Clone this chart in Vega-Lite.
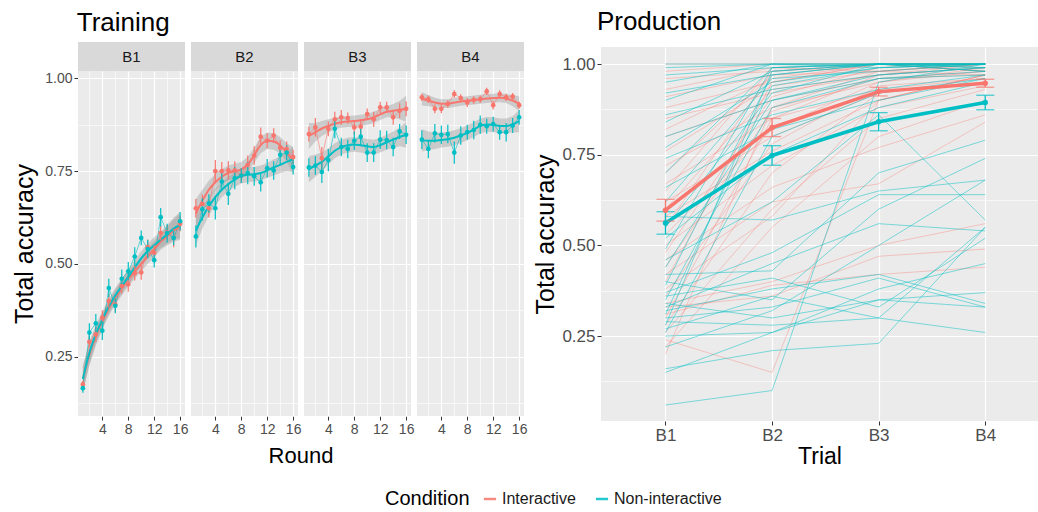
{
  "$schema": "https://vega.github.io/schema/vega-lite/v6.json",
  "background": "white",
  "padding": {"left": 12, "top": 9, "right": 0, "bottom": 0},
  "datasets": {
    "training": [
      {"b":"B1","r":1,"c":"Interactive","acc":0.175,"se":0.01,"fit":0.19,"fse":0.035},
      {"b":"B1","r":2,"c":"Interactive","acc":0.29,"se":0.015,"fit":0.255,"fse":0.03},
      {"b":"B1","r":3,"c":"Interactive","acc":0.31,"se":0.02,"fit":0.305,"fse":0.025},
      {"b":"B1","r":4,"c":"Interactive","acc":0.355,"se":0.02,"fit":0.345,"fse":0.022},
      {"b":"B1","r":5,"c":"Interactive","acc":0.40,"se":0.02,"fit":0.38,"fse":0.02},
      {"b":"B1","r":6,"c":"Interactive","acc":0.39,"se":0.02,"fit":0.41,"fse":0.02},
      {"b":"B1","r":7,"c":"Interactive","acc":0.44,"se":0.02,"fit":0.435,"fse":0.02},
      {"b":"B1","r":8,"c":"Interactive","acc":0.445,"se":0.02,"fit":0.46,"fse":0.02},
      {"b":"B1","r":9,"c":"Interactive","acc":0.475,"se":0.02,"fit":0.48,"fse":0.02},
      {"b":"B1","r":10,"c":"Interactive","acc":0.477,"se":0.02,"fit":0.50,"fse":0.02},
      {"b":"B1","r":11,"c":"Interactive","acc":0.545,"se":0.02,"fit":0.52,"fse":0.02},
      {"b":"B1","r":12,"c":"Interactive","acc":0.53,"se":0.02,"fit":0.54,"fse":0.022},
      {"b":"B1","r":13,"c":"Interactive","acc":0.583,"se":0.02,"fit":0.56,"fse":0.022},
      {"b":"B1","r":14,"c":"Interactive","acc":0.585,"se":0.02,"fit":0.575,"fse":0.025},
      {"b":"B1","r":15,"c":"Interactive","acc":0.57,"se":0.025,"fit":0.59,"fse":0.03},
      {"b":"B1","r":16,"c":"Interactive","acc":0.608,"se":0.02,"fit":0.60,"fse":0.035},
      {"b":"B1","r":1,"c":"Non-interactive","acc":0.165,"se":0.012,"fit":0.19,"fse":0.035},
      {"b":"B1","r":2,"c":"Non-interactive","acc":0.315,"se":0.025,"fit":0.26,"fse":0.03},
      {"b":"B1","r":3,"c":"Non-interactive","acc":0.34,"se":0.025,"fit":0.31,"fse":0.025},
      {"b":"B1","r":4,"c":"Non-interactive","acc":0.32,"se":0.025,"fit":0.35,"fse":0.022},
      {"b":"B1","r":5,"c":"Non-interactive","acc":0.435,"se":0.025,"fit":0.385,"fse":0.02},
      {"b":"B1","r":6,"c":"Non-interactive","acc":0.387,"se":0.02,"fit":0.415,"fse":0.02},
      {"b":"B1","r":7,"c":"Non-interactive","acc":0.46,"se":0.025,"fit":0.44,"fse":0.02},
      {"b":"B1","r":8,"c":"Non-interactive","acc":0.48,"se":0.025,"fit":0.465,"fse":0.02},
      {"b":"B1","r":9,"c":"Non-interactive","acc":0.52,"se":0.025,"fit":0.49,"fse":0.02},
      {"b":"B1","r":10,"c":"Non-interactive","acc":0.57,"se":0.02,"fit":0.515,"fse":0.02},
      {"b":"B1","r":11,"c":"Non-interactive","acc":0.54,"se":0.025,"fit":0.535,"fse":0.02},
      {"b":"B1","r":12,"c":"Non-interactive","acc":0.51,"se":0.02,"fit":0.55,"fse":0.022},
      {"b":"B1","r":13,"c":"Non-interactive","acc":0.626,"se":0.025,"fit":0.565,"fse":0.022},
      {"b":"B1","r":14,"c":"Non-interactive","acc":0.583,"se":0.025,"fit":0.58,"fse":0.025},
      {"b":"B1","r":15,"c":"Non-interactive","acc":0.57,"se":0.02,"fit":0.595,"fse":0.03},
      {"b":"B1","r":16,"c":"Non-interactive","acc":0.615,"se":0.025,"fit":0.605,"fse":0.035},
      {"b":"B2","r":1,"c":"Interactive","acc":0.65,"se":0.025,"fit":0.635,"fse":0.04},
      {"b":"B2","r":2,"c":"Interactive","acc":0.662,"se":0.025,"fit":0.67,"fse":0.03},
      {"b":"B2","r":3,"c":"Interactive","acc":0.65,"se":0.025,"fit":0.70,"fse":0.025},
      {"b":"B2","r":4,"c":"Interactive","acc":0.75,"se":0.03,"fit":0.72,"fse":0.022},
      {"b":"B2","r":5,"c":"Interactive","acc":0.75,"se":0.025,"fit":0.735,"fse":0.02},
      {"b":"B2","r":6,"c":"Interactive","acc":0.752,"se":0.025,"fit":0.745,"fse":0.02},
      {"b":"B2","r":7,"c":"Interactive","acc":0.752,"se":0.025,"fit":0.75,"fse":0.02},
      {"b":"B2","r":8,"c":"Interactive","acc":0.738,"se":0.02,"fit":0.755,"fse":0.02},
      {"b":"B2","r":9,"c":"Interactive","acc":0.767,"se":0.025,"fit":0.768,"fse":0.02},
      {"b":"B2","r":10,"c":"Interactive","acc":0.792,"se":0.025,"fit":0.793,"fse":0.02},
      {"b":"B2","r":11,"c":"Interactive","acc":0.843,"se":0.025,"fit":0.82,"fse":0.022},
      {"b":"B2","r":12,"c":"Interactive","acc":0.832,"se":0.02,"fit":0.832,"fse":0.022},
      {"b":"B2","r":13,"c":"Interactive","acc":0.846,"se":0.02,"fit":0.83,"fse":0.022},
      {"b":"B2","r":14,"c":"Interactive","acc":0.813,"se":0.02,"fit":0.82,"fse":0.022},
      {"b":"B2","r":15,"c":"Interactive","acc":0.81,"se":0.02,"fit":0.80,"fse":0.025},
      {"b":"B2","r":16,"c":"Interactive","acc":0.788,"se":0.02,"fit":0.78,"fse":0.035},
      {"b":"B2","r":1,"c":"Non-interactive","acc":0.574,"se":0.03,"fit":0.59,"fse":0.04},
      {"b":"B2","r":2,"c":"Non-interactive","acc":0.647,"se":0.03,"fit":0.625,"fse":0.03},
      {"b":"B2","r":3,"c":"Non-interactive","acc":0.663,"se":0.025,"fit":0.655,"fse":0.025},
      {"b":"B2","r":4,"c":"Non-interactive","acc":0.65,"se":0.03,"fit":0.68,"fse":0.022},
      {"b":"B2","r":5,"c":"Non-interactive","acc":0.722,"se":0.025,"fit":0.70,"fse":0.02},
      {"b":"B2","r":6,"c":"Non-interactive","acc":0.689,"se":0.03,"fit":0.715,"fse":0.02},
      {"b":"B2","r":7,"c":"Non-interactive","acc":0.731,"se":0.03,"fit":0.728,"fse":0.02},
      {"b":"B2","r":8,"c":"Non-interactive","acc":0.738,"se":0.02,"fit":0.737,"fse":0.02},
      {"b":"B2","r":9,"c":"Non-interactive","acc":0.745,"se":0.03,"fit":0.74,"fse":0.02},
      {"b":"B2","r":10,"c":"Non-interactive","acc":0.736,"se":0.025,"fit":0.742,"fse":0.02},
      {"b":"B2","r":11,"c":"Non-interactive","acc":0.72,"se":0.025,"fit":0.745,"fse":0.02},
      {"b":"B2","r":12,"c":"Non-interactive","acc":0.758,"se":0.025,"fit":0.752,"fse":0.02},
      {"b":"B2","r":13,"c":"Non-interactive","acc":0.752,"se":0.025,"fit":0.76,"fse":0.022},
      {"b":"B2","r":14,"c":"Non-interactive","acc":0.794,"se":0.025,"fit":0.767,"fse":0.022},
      {"b":"B2","r":15,"c":"Non-interactive","acc":0.80,"se":0.02,"fit":0.775,"fse":0.025},
      {"b":"B2","r":16,"c":"Non-interactive","acc":0.761,"se":0.02,"fit":0.782,"fse":0.035},
      {"b":"B3","r":1,"c":"Interactive","acc":0.85,"se":0.02,"fit":0.845,"fse":0.035},
      {"b":"B3","r":2,"c":"Interactive","acc":0.868,"se":0.025,"fit":0.855,"fse":0.025},
      {"b":"B3","r":3,"c":"Interactive","acc":0.785,"se":0.03,"fit":0.865,"fse":0.02},
      {"b":"B3","r":4,"c":"Interactive","acc":0.864,"se":0.02,"fit":0.872,"fse":0.018},
      {"b":"B3","r":5,"c":"Interactive","acc":0.89,"se":0.02,"fit":0.878,"fse":0.015},
      {"b":"B3","r":6,"c":"Interactive","acc":0.895,"se":0.02,"fit":0.882,"fse":0.015},
      {"b":"B3","r":7,"c":"Interactive","acc":0.893,"se":0.015,"fit":0.884,"fse":0.015},
      {"b":"B3","r":8,"c":"Interactive","acc":0.868,"se":0.02,"fit":0.885,"fse":0.015},
      {"b":"B3","r":9,"c":"Interactive","acc":0.87,"se":0.02,"fit":0.887,"fse":0.015},
      {"b":"B3","r":10,"c":"Interactive","acc":0.904,"se":0.015,"fit":0.89,"fse":0.015},
      {"b":"B3","r":11,"c":"Interactive","acc":0.89,"se":0.02,"fit":0.895,"fse":0.015},
      {"b":"B3","r":12,"c":"Interactive","acc":0.922,"se":0.015,"fit":0.903,"fse":0.015},
      {"b":"B3","r":13,"c":"Interactive","acc":0.922,"se":0.015,"fit":0.91,"fse":0.015},
      {"b":"B3","r":14,"c":"Interactive","acc":0.895,"se":0.02,"fit":0.913,"fse":0.018},
      {"b":"B3","r":15,"c":"Interactive","acc":0.913,"se":0.02,"fit":0.915,"fse":0.025},
      {"b":"B3","r":16,"c":"Interactive","acc":0.918,"se":0.02,"fit":0.918,"fse":0.035},
      {"b":"B3","r":1,"c":"Non-interactive","acc":0.76,"se":0.025,"fit":0.755,"fse":0.035},
      {"b":"B3","r":2,"c":"Non-interactive","acc":0.765,"se":0.025,"fit":0.765,"fse":0.03},
      {"b":"B3","r":3,"c":"Non-interactive","acc":0.748,"se":0.03,"fit":0.775,"fse":0.025},
      {"b":"B3","r":4,"c":"Non-interactive","acc":0.78,"se":0.03,"fit":0.79,"fse":0.022},
      {"b":"B3","r":5,"c":"Non-interactive","acc":0.864,"se":0.025,"fit":0.805,"fse":0.02},
      {"b":"B3","r":6,"c":"Non-interactive","acc":0.815,"se":0.025,"fit":0.815,"fse":0.02},
      {"b":"B3","r":7,"c":"Non-interactive","acc":0.81,"se":0.025,"fit":0.82,"fse":0.02},
      {"b":"B3","r":8,"c":"Non-interactive","acc":0.832,"se":0.025,"fit":0.822,"fse":0.02},
      {"b":"B3","r":9,"c":"Non-interactive","acc":0.843,"se":0.025,"fit":0.82,"fse":0.02},
      {"b":"B3","r":10,"c":"Non-interactive","acc":0.80,"se":0.025,"fit":0.817,"fse":0.02},
      {"b":"B3","r":11,"c":"Non-interactive","acc":0.80,"se":0.025,"fit":0.815,"fse":0.02},
      {"b":"B3","r":12,"c":"Non-interactive","acc":0.835,"se":0.025,"fit":0.82,"fse":0.02},
      {"b":"B3","r":13,"c":"Non-interactive","acc":0.834,"se":0.025,"fit":0.828,"fse":0.02},
      {"b":"B3","r":14,"c":"Non-interactive","acc":0.815,"se":0.025,"fit":0.835,"fse":0.022},
      {"b":"B3","r":15,"c":"Non-interactive","acc":0.857,"se":0.02,"fit":0.842,"fse":0.025},
      {"b":"B3","r":16,"c":"Non-interactive","acc":0.848,"se":0.025,"fit":0.848,"fse":0.035},
      {"b":"B4","r":1,"c":"Interactive","acc":0.949,"se":0.01,"fit":0.945,"fse":0.018},
      {"b":"B4","r":2,"c":"Interactive","acc":0.944,"se":0.01,"fit":0.94,"fse":0.015},
      {"b":"B4","r":3,"c":"Interactive","acc":0.918,"se":0.012,"fit":0.935,"fse":0.013},
      {"b":"B4","r":4,"c":"Interactive","acc":0.918,"se":0.012,"fit":0.932,"fse":0.012},
      {"b":"B4","r":5,"c":"Interactive","acc":0.931,"se":0.01,"fit":0.932,"fse":0.012},
      {"b":"B4","r":6,"c":"Interactive","acc":0.958,"se":0.01,"fit":0.935,"fse":0.012},
      {"b":"B4","r":7,"c":"Interactive","acc":0.947,"se":0.01,"fit":0.938,"fse":0.012},
      {"b":"B4","r":8,"c":"Interactive","acc":0.935,"se":0.012,"fit":0.94,"fse":0.012},
      {"b":"B4","r":9,"c":"Interactive","acc":0.942,"se":0.01,"fit":0.942,"fse":0.012},
      {"b":"B4","r":10,"c":"Interactive","acc":0.944,"se":0.01,"fit":0.944,"fse":0.012},
      {"b":"B4","r":11,"c":"Interactive","acc":0.965,"se":0.01,"fit":0.946,"fse":0.012},
      {"b":"B4","r":12,"c":"Interactive","acc":0.928,"se":0.012,"fit":0.947,"fse":0.012},
      {"b":"B4","r":13,"c":"Interactive","acc":0.958,"se":0.01,"fit":0.948,"fse":0.012},
      {"b":"B4","r":14,"c":"Interactive","acc":0.949,"se":0.01,"fit":0.946,"fse":0.012},
      {"b":"B4","r":15,"c":"Interactive","acc":0.951,"se":0.01,"fit":0.94,"fse":0.015},
      {"b":"B4","r":16,"c":"Interactive","acc":0.928,"se":0.01,"fit":0.932,"fse":0.02},
      {"b":"B4","r":1,"c":"Non-interactive","acc":0.835,"se":0.025,"fit":0.833,"fse":0.03},
      {"b":"B4","r":2,"c":"Non-interactive","acc":0.81,"se":0.025,"fit":0.832,"fse":0.025},
      {"b":"B4","r":3,"c":"Non-interactive","acc":0.852,"se":0.025,"fit":0.832,"fse":0.022},
      {"b":"B4","r":4,"c":"Non-interactive","acc":0.848,"se":0.025,"fit":0.834,"fse":0.02},
      {"b":"B4","r":5,"c":"Non-interactive","acc":0.85,"se":0.025,"fit":0.836,"fse":0.02},
      {"b":"B4","r":6,"c":"Non-interactive","acc":0.80,"se":0.03,"fit":0.84,"fse":0.02},
      {"b":"B4","r":7,"c":"Non-interactive","acc":0.846,"se":0.025,"fit":0.846,"fse":0.02},
      {"b":"B4","r":8,"c":"Non-interactive","acc":0.855,"se":0.02,"fit":0.853,"fse":0.02},
      {"b":"B4","r":9,"c":"Non-interactive","acc":0.861,"se":0.025,"fit":0.862,"fse":0.02},
      {"b":"B4","r":10,"c":"Non-interactive","acc":0.875,"se":0.025,"fit":0.872,"fse":0.02},
      {"b":"B4","r":11,"c":"Non-interactive","acc":0.871,"se":0.02,"fit":0.876,"fse":0.02},
      {"b":"B4","r":12,"c":"Non-interactive","acc":0.877,"se":0.02,"fit":0.875,"fse":0.02},
      {"b":"B4","r":13,"c":"Non-interactive","acc":0.855,"se":0.02,"fit":0.872,"fse":0.02},
      {"b":"B4","r":14,"c":"Non-interactive","acc":0.855,"se":0.025,"fit":0.872,"fse":0.02},
      {"b":"B4","r":15,"c":"Non-interactive","acc":0.873,"se":0.02,"fit":0.876,"fse":0.022},
      {"b":"B4","r":16,"c":"Non-interactive","acc":0.895,"se":0.02,"fit":0.885,"fse":0.03}
    ],
    "prod": [
      {"id":"I1","c":"Interactive","B1":1.00,"B2":1.00,"B3":1.00,"B4":1.00},
      {"id":"I2","c":"Interactive","B1":0.98,"B2":1.00,"B3":1.00,"B4":1.00},
      {"id":"I3","c":"Interactive","B1":0.96,"B2":0.98,"B3":1.00,"B4":0.98},
      {"id":"I4","c":"Interactive","B1":0.93,"B2":0.99,"B3":1.00,"B4":1.00},
      {"id":"I5","c":"Interactive","B1":0.91,"B2":0.97,"B3":0.98,"B4":0.97},
      {"id":"I6","c":"Interactive","B1":0.88,"B2":0.95,"B3":1.00,"B4":0.99},
      {"id":"I7","c":"Interactive","B1":0.85,"B2":0.92,"B3":0.97,"B4":1.00},
      {"id":"I8","c":"Interactive","B1":0.82,"B2":0.96,"B3":1.00,"B4":0.98},
      {"id":"I9","c":"Interactive","B1":0.80,"B2":0.90,"B3":0.96,"B4":0.97},
      {"id":"I10","c":"Interactive","B1":0.76,"B2":0.94,"B3":0.98,"B4":1.00},
      {"id":"I11","c":"Interactive","B1":0.72,"B2":0.88,"B3":0.95,"B4":0.98},
      {"id":"I12","c":"Interactive","B1":0.70,"B2":0.97,"B3":1.00,"B4":1.00},
      {"id":"I13","c":"Interactive","B1":0.67,"B2":0.85,"B3":0.93,"B4":0.96},
      {"id":"I14","c":"Interactive","B1":0.65,"B2":0.99,"B3":0.98,"B4":1.00},
      {"id":"I15","c":"Interactive","B1":0.62,"B2":0.80,"B3":0.92,"B4":0.95},
      {"id":"I16","c":"Interactive","B1":0.60,"B2":0.93,"B3":0.97,"B4":0.99},
      {"id":"I17","c":"Interactive","B1":0.58,"B2":0.76,"B3":0.90,"B4":0.97},
      {"id":"I18","c":"Interactive","B1":0.55,"B2":0.98,"B3":1.00,"B4":0.98},
      {"id":"I19","c":"Interactive","B1":0.53,"B2":0.82,"B3":0.95,"B4":0.99},
      {"id":"I20","c":"Interactive","B1":0.50,"B2":0.72,"B3":0.88,"B4":0.94},
      {"id":"I21","c":"Interactive","B1":0.48,"B2":0.91,"B3":0.99,"B4":1.00},
      {"id":"I22","c":"Interactive","B1":0.46,"B2":0.66,"B3":0.77,"B4":0.86},
      {"id":"I23","c":"Interactive","B1":0.44,"B2":0.87,"B3":0.96,"B4":0.98},
      {"id":"I24","c":"Interactive","B1":0.42,"B2":0.62,"B3":0.67,"B4":0.84},
      {"id":"I25","c":"Interactive","B1":0.40,"B2":0.95,"B3":1.00,"B4":1.00},
      {"id":"I26","c":"Interactive","B1":0.38,"B2":0.58,"B3":0.90,"B4":0.97},
      {"id":"I27","c":"Interactive","B1":0.36,"B2":0.78,"B3":0.94,"B4":0.96},
      {"id":"I28","c":"Interactive","B1":0.34,"B2":0.40,"B3":0.50,"B4":0.56},
      {"id":"I29","c":"Interactive","B1":0.33,"B2":0.36,"B3":0.47,"B4":0.49},
      {"id":"I30","c":"Interactive","B1":0.31,"B2":0.39,"B3":0.42,"B4":0.44},
      {"id":"I31","c":"Interactive","B1":0.30,"B2":0.85,"B3":0.97,"B4":0.99},
      {"id":"I32","c":"Interactive","B1":0.28,"B2":0.70,"B3":0.92,"B4":0.95},
      {"id":"I33","c":"Interactive","B1":0.26,"B2":0.60,"B3":0.85,"B4":0.93},
      {"id":"I34","c":"Interactive","B1":0.24,"B2":0.15,"B3":0.90,"B4":0.97},
      {"id":"I35","c":"Interactive","B1":0.22,"B2":0.55,"B3":0.80,"B4":0.90},
      {"id":"I36","c":"Interactive","B1":0.20,"B2":0.88,"B3":0.98,"B4":1.00},
      {"id":"N1","c":"Non-interactive","B1":1.00,"B2":1.00,"B3":1.00,"B4":1.00},
      {"id":"N2","c":"Non-interactive","B1":0.99,"B2":1.00,"B3":1.00,"B4":0.99},
      {"id":"N3","c":"Non-interactive","B1":0.97,"B2":0.99,"B3":1.00,"B4":1.00},
      {"id":"N4","c":"Non-interactive","B1":0.95,"B2":1.00,"B3":0.99,"B4":1.00},
      {"id":"N5","c":"Non-interactive","B1":0.92,"B2":0.97,"B3":1.00,"B4":0.98},
      {"id":"N6","c":"Non-interactive","B1":0.90,"B2":1.00,"B3":1.00,"B4":1.00},
      {"id":"N7","c":"Non-interactive","B1":0.86,"B2":0.93,"B3":0.97,"B4":0.99},
      {"id":"N8","c":"Non-interactive","B1":0.84,"B2":0.98,"B3":1.00,"B4":1.00},
      {"id":"N9","c":"Non-interactive","B1":0.80,"B2":0.90,"B3":0.96,"B4":0.98},
      {"id":"N10","c":"Non-interactive","B1":0.77,"B2":0.95,"B3":0.99,"B4":1.00},
      {"id":"N11","c":"Non-interactive","B1":0.74,"B2":0.86,"B3":0.93,"B4":0.97},
      {"id":"N12","c":"Non-interactive","B1":0.70,"B2":0.99,"B3":1.00,"B4":0.99},
      {"id":"N13","c":"Non-interactive","B1":0.66,"B2":0.82,"B3":0.90,"B4":0.96},
      {"id":"N14","c":"Non-interactive","B1":0.62,"B2":0.96,"B3":0.98,"B4":1.00},
      {"id":"N15","c":"Non-interactive","B1":0.58,"B2":0.57,"B3":0.65,"B4":0.68},
      {"id":"N16","c":"Non-interactive","B1":0.55,"B2":0.92,"B3":1.00,"B4":0.98},
      {"id":"N17","c":"Non-interactive","B1":0.52,"B2":0.75,"B3":0.88,"B4":0.95},
      {"id":"N18","c":"Non-interactive","B1":0.49,"B2":0.99,"B3":1.00,"B4":1.00},
      {"id":"N19","c":"Non-interactive","B1":0.46,"B2":0.62,"B3":0.86,"B4":0.57},
      {"id":"N20","c":"Non-interactive","B1":0.44,"B2":0.90,"B3":0.97,"B4":0.99},
      {"id":"N21","c":"Non-interactive","B1":0.42,"B2":0.43,"B3":0.70,"B4":0.79},
      {"id":"N22","c":"Non-interactive","B1":0.40,"B2":0.35,"B3":0.60,"B4":0.74},
      {"id":"N23","c":"Non-interactive","B1":0.39,"B2":0.97,"B3":1.00,"B4":1.00},
      {"id":"N24","c":"Non-interactive","B1":0.37,"B2":0.48,"B3":0.64,"B4":0.64},
      {"id":"N25","c":"Non-interactive","B1":0.36,"B2":0.41,"B3":0.33,"B4":0.52},
      {"id":"N26","c":"Non-interactive","B1":0.35,"B2":0.88,"B3":0.96,"B4":0.97},
      {"id":"N27","c":"Non-interactive","B1":0.34,"B2":0.30,"B3":0.35,"B4":0.37},
      {"id":"N28","c":"Non-interactive","B1":0.33,"B2":0.45,"B3":0.56,"B4":0.54},
      {"id":"N29","c":"Non-interactive","B1":0.32,"B2":0.38,"B3":0.42,"B4":0.34},
      {"id":"N30","c":"Non-interactive","B1":0.31,"B2":0.94,"B3":0.99,"B4":1.00},
      {"id":"N31","c":"Non-interactive","B1":0.30,"B2":0.33,"B3":0.41,"B4":0.33},
      {"id":"N32","c":"Non-interactive","B1":0.29,"B2":0.28,"B3":0.30,"B4":0.26},
      {"id":"N33","c":"Non-interactive","B1":0.28,"B2":0.98,"B3":1.00,"B4":1.00},
      {"id":"N34","c":"Non-interactive","B1":0.27,"B2":0.36,"B3":0.30,"B4":0.55},
      {"id":"N35","c":"Non-interactive","B1":0.26,"B2":0.80,"B3":0.92,"B4":0.96},
      {"id":"N36","c":"Non-interactive","B1":0.25,"B2":0.26,"B3":0.38,"B4":0.45},
      {"id":"N37","c":"Non-interactive","B1":0.22,"B2":0.32,"B3":0.50,"B4":0.68},
      {"id":"N38","c":"Non-interactive","B1":0.16,"B2":0.21,"B3":0.23,"B4":0.55},
      {"id":"N39","c":"Non-interactive","B1":0.15,"B2":0.26,"B3":0.35,"B4":0.33},
      {"id":"N40","c":"Non-interactive","B1":0.06,"B2":0.10,"B3":0.95,"B4":1.00}
    ],
    "means": [
      {"trial":"B1","c":"Interactive","m":0.597,"se":0.03},
      {"trial":"B2","c":"Interactive","m":0.825,"se":0.025},
      {"trial":"B3","c":"Interactive","m":0.924,"se":0.012},
      {"trial":"B4","c":"Interactive","m":0.947,"se":0.011},
      {"trial":"B1","c":"Non-interactive","m":0.562,"se":0.031},
      {"trial":"B2","c":"Non-interactive","m":0.748,"se":0.027},
      {"trial":"B3","c":"Non-interactive","m":0.841,"se":0.025},
      {"trial":"B4","c":"Non-interactive","m":0.894,"se":0.02}
    ]
  },
  "spacing": 6,
  "hconcat": [
    {
      "title": {"text": "Training", "offset": 6, "dx": 64},
      "spacing": 0,
      "vconcat": [
        {
          "data": {"values": [{"b":"B1"},{"b":"B2"},{"b":"B3"},{"b":"B4"}]},
          "facet": {"column": {"field": "b", "type": "nominal", "header": {"title": null, "labels": false}}},
          "spacing": 6,
          "spec": {
            "width": 107,
            "height": 29,
            "view": {"fill": "#D9D9D9", "stroke": null},
            "mark": {"type": "text", "fontSize": 15, "color": "#1A1A1A", "font": "Liberation Sans"},
            "encoding": {"text": {"field": "b", "type": "nominal"}}
          }
        },
        {
          "data": {"name": "training"},
          "facet": {"column": {"field": "b", "type": "nominal", "header": {"title": "Round", "titleOrient": "bottom", "labels": false, "titleFontSize": 22, "titleFontWeight": "normal", "titleColor": "black", "titlePadding": 0}}},
          "spacing": 6,
          "spec": {
            "width": 107,
            "height": 345,
            "layer": [
              {
                "mark": {"type": "errorband", "band": {"color": "#999999", "opacity": 0.4}},
                "encoding": {
                  "x": {"field": "r", "type": "quantitative", "title": null,
                    "scale": {"domain": [0.25, 16.75], "nice": false, "zero": false},
                    "axis": {"values": [2,4,6,8,10,12,14,16], "tickCount": 20, "labelExpr": "datum.value % 4 === 0 ? datum.label : ''", "labelOverlap": false, "labelFlush": false,
                      "gridWidth": {"condition": {"test": "datum.value % 4 === 0", "value": 1.2}, "value": 0.6},
                      "tickOpacity": {"condition": {"test": "datum.value % 4 === 0", "value": 1}, "value": 0},
                      "labelFontSize": 14, "labelPadding": 2}},
                  "y": {"field": "fit", "type": "quantitative", "title": "Total accuracy",
                    "scale": {"domain": [0.09, 1.02], "nice": false, "zero": false},
                    "axis": {"values": [0.125,0.25,0.375,0.5,0.625,0.75,0.875,1], "tickCount": 20, "labelExpr": "(datum.value*4) % 1 === 0 ? format(datum.value, '.2f') : ''", "labelOverlap": false,
                      "gridWidth": {"condition": {"test": "(datum.value*4) % 1 === 0", "value": 1.2}, "value": 0.6},
                      "tickOpacity": {"condition": {"test": "(datum.value*4) % 1 === 0", "value": 1}, "value": 0},
                      "labelFontSize": 14, "labelPadding": 2, "titleFontSize": 25, "titlePadding": 7}},
                  "yError": {"field": "fse"},
                  "detail": {"field": "c", "type": "nominal"}
                }
              },
              {
                "mark": {"type": "line", "strokeWidth": 0.7, "opacity": 0.85},
                "encoding": {
                  "x": {"field": "r", "type": "quantitative"},
                  "y": {"field": "acc", "type": "quantitative", "title": "Total accuracy"},
                  "color": {"field": "c", "type": "nominal", "title": "Condition",
                    "scale": {"domain": ["Interactive", "Non-interactive"], "range": ["#F8766D", "#00BFC4"]},
                    "legend": {"orient": "none", "legendX": 307, "legendY": 449, "direction": "horizontal", "titleOrient": "left"}}
                }
              },
              {
                "mark": {"type": "line", "strokeWidth": 2, "interpolate": "monotone"},
                "encoding": {
                  "x": {"field": "r", "type": "quantitative"},
                  "y": {"field": "fit", "type": "quantitative", "title": "Total accuracy"},
                  "color": {"field": "c", "type": "nominal", "title": "Condition"}
                }
              },
              {
                "mark": {"type": "errorbar", "thickness": 1.2},
                "encoding": {
                  "x": {"field": "r", "type": "quantitative"},
                  "y": {"field": "acc", "type": "quantitative", "title": "Total accuracy"},
                  "yError": {"field": "se"},
                  "color": {"field": "c", "type": "nominal", "title": "Condition"}
                }
              },
              {
                "mark": {"type": "circle", "size": 22, "opacity": 1},
                "encoding": {
                  "x": {"field": "r", "type": "quantitative"},
                  "y": {"field": "acc", "type": "quantitative", "title": "Total accuracy"},
                  "color": {"field": "c", "type": "nominal", "title": "Condition"}
                }
              }
            ]
          }
        }
      ]
    },
    {
      "title": {"text": "Production", "offset": 6, "dx": 63},
      "spacing": 0,
      "vconcat": [
        {
          "width": 437,
          "height": 4,
          "view": {"fill": null, "stroke": null},
          "data": {"values": [{"k": 1}]},
          "mark": {"type": "point", "opacity": 0},
          "encoding": {}
        },
        {
          "width": 437,
          "height": 374,
          "layer": [
            {
              "data": {"name": "prod"},
              "transform": [{"fold": ["B1", "B2", "B3", "B4"], "as": ["trial", "acc"]}],
              "mark": {"type": "line", "strokeWidth": 0.9},
              "encoding": {
                "x": {"field": "trial", "type": "ordinal", "title": "Trial",
                  "scale": {"type": "point", "padding": 0.55, "align": 0.55},
                  "axis": {"labelAngle": 0, "grid": true, "gridWidth": 1.2, "labelFontSize": 17, "labelPadding": 2, "titleFontSize": 23, "titlePadding": 2}},
                "y": {"field": "acc", "type": "quantitative", "title": "Total accuracy",
                  "scale": {"domain": [0.016, 1.047], "nice": false, "zero": false},
                  "axis": {"values": [0.125,0.25,0.375,0.5,0.625,0.75,0.875,1], "tickCount": 20, "labelExpr": "(datum.value*4) % 1 === 0 ? format(datum.value, '.2f') : ''", "labelOverlap": false,
                    "gridWidth": {"condition": {"test": "(datum.value*4) % 1 === 0", "value": 1.2}, "value": 0.6},
                    "tickOpacity": {"condition": {"test": "(datum.value*4) % 1 === 0", "value": 1}, "value": 0},
                    "labelFontSize": 17, "labelPadding": 2, "titleFontSize": 25, "titlePadding": 3}},
                "detail": {"field": "id", "type": "nominal"},
                "color": {"field": "c", "type": "nominal", "title": "Condition"},
                "strokeOpacity": {"condition": {"test": "datum.c === 'Interactive'", "value": 0.4}, "value": 0.55}
              }
            },
            {
              "data": {"name": "means"},
              "mark": {"type": "line", "strokeWidth": 3.5},
              "encoding": {
                "x": {"field": "trial", "type": "ordinal", "title": "Trial"},
                "y": {"field": "m", "type": "quantitative", "title": "Total accuracy"},
                "color": {"field": "c", "type": "nominal", "title": "Condition"}
              }
            },
            {
              "data": {"name": "means"},
              "mark": {"type": "errorbar", "ticks": true, "thickness": 1.3},
              "encoding": {
                "x": {"field": "trial", "type": "ordinal", "title": "Trial"},
                "y": {"field": "m", "type": "quantitative", "title": "Total accuracy"},
                "yError": {"field": "se"},
                "color": {"field": "c", "type": "nominal", "title": "Condition"}
              }
            },
            {
              "data": {"name": "means"},
              "mark": {"type": "circle", "size": 30, "opacity": 1},
              "encoding": {
                "x": {"field": "trial", "type": "ordinal", "title": "Trial"},
                "y": {"field": "m", "type": "quantitative", "title": "Total accuracy"},
                "color": {"field": "c", "type": "nominal", "title": "Condition"}
              }
            }
          ]
        }
      ]
    }
  ],
  "config": {
    "font": "Liberation Sans",
    "view": {"fill": "#EBEBEB", "stroke": null},
    "axis": {"domain": false, "tickColor": "#333333", "tickSize": 4, "labelColor": "#4D4D4D", "titleColor": "black", "titleFontWeight": "normal", "gridColor": "white", "labelFont": "Liberation Sans", "titleFont": "Liberation Sans"},
    "title": {"anchor": "start", "fontWeight": "normal", "fontSize": 26, "color": "black", "font": "Liberation Sans"},
    "legend": {"titleFontSize": 20, "titleFontWeight": "normal", "titleColor": "black", "labelFontSize": 16, "labelColor": "#1A1A1A", "symbolType": "stroke", "symbolStrokeWidth": 2.5, "symbolSize": 150, "columnPadding": 14, "titlePadding": 12}
  }
}
